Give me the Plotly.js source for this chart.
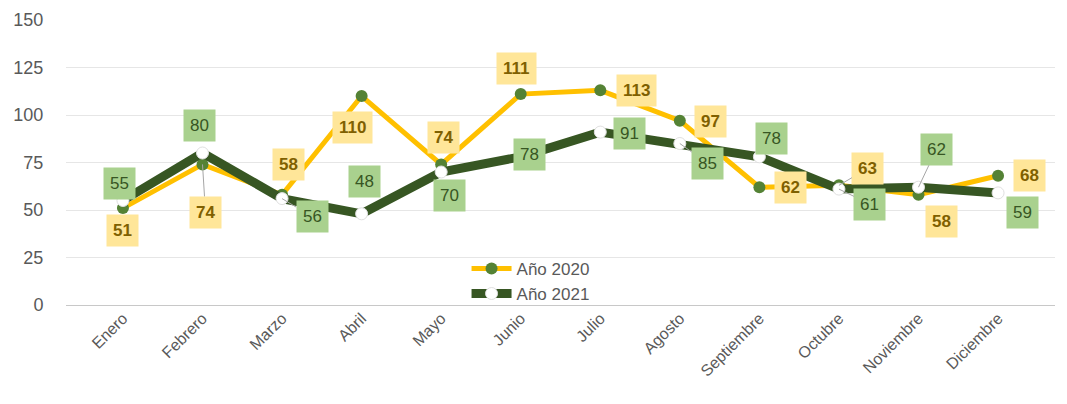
<!DOCTYPE html>
<html>
<head>
<meta charset="utf-8">
<script src="https://cdn.plot.ly/plotly-3.0.1.min.js"></script>
<style>html,body{margin:0;padding:0;background:#fff;}#chart{width:1067px;height:404px;}</style>
</head>
<body>
<div id="chart"></div>
<script>
const months = ["Enero","Febrero","Marzo","Abril","Mayo","Junio","Julio","Agosto","Septiembre","Octubre","Noviembre","Diciembre"];
const values2020 = [51, 74, 58, 110, 74, 111, 113, 97, 62, 63, 58, 68];
const values2021 = [55, 80, 56, 48, 70, 78, 91, 85, 78, 61, 62, 59];
const seriesNames = ["Año 2020", "Año 2021"];

// label placement (pixel offsets from the point, styling only)
const off2020 = [[0,22],[3,48],[6,-30],[-9,31],[2,-27],[-4,-26],[36,0],[31,1],[31,0],[29,-17],[23,27],[31,0]];
const lead2020 = [false,true,false,false,false,false,false,false,false,true,false,false];
const off2021 = [[-3,-17],[-3,-28],[30,18],[3,-32],[8,23],[9,-2],[29,1],[28,20],[12,-18],[31,15],[18,-38],[24,20]];
const lead2021 = [false,false,true,false,false,false,false,true,false,true,true,false];

function labels(vals, offs, leads, bg, col, bold) {
  return vals.map((v, i) => {
    const a = {
      x: months[i], y: v, xref: 'x', yref: 'y',
      text: bold ? '<b>' + v + '</b>' : String(v),
      bgcolor: bg, borderpad: 6,
      font: {family: 'Liberation Sans, Arial, sans-serif', size: 17, color: col}
    };
    if (leads[i]) {
      Object.assign(a, {showarrow: true, arrowhead: 0, arrowwidth: 1, arrowcolor: '#A6A6A6',
        ax: offs[i][0], ay: offs[i][1], standoff: 0});
    } else {
      Object.assign(a, {showarrow: false, xshift: offs[i][0], yshift: -offs[i][1]});
    }
    return a;
  });
}

const traces = [
  {x: months, y: values2020, name: seriesNames[0], type: 'scatter', mode: 'lines+markers',
   line: {color: '#FFC000', width: 5},
   marker: {color: '#548235', size: 12}},
  {x: months, y: values2021, name: seriesNames[1], type: 'scatter', mode: 'lines+markers',
   line: {color: '#375623', width: 9},
   marker: {color: '#FFFFFF', size: 12, line: {color: '#E0E0E0', width: 1}}}
];

const layout = {
  width: 1067, height: 404,
  margin: {l: 66, r: 12, t: 20, b: 99},
  paper_bgcolor: '#FFFFFF', plot_bgcolor: '#FFFFFF',
  font: {family: 'Liberation Sans, Arial, sans-serif', color: '#595959'},
  showlegend: true,
  legend: {x: 0.405, y: 0.19, xanchor: 'left', yanchor: 'top', bgcolor: 'rgba(0,0,0,0)',
           font: {size: 17, color: '#595959'}, tracegroupgap: 0, itemwidth: 40},
  xaxis: {type: 'category', tickangle: -45, showgrid: false, showline: false, zeroline: false,
          ticks: '', tickfont: {size: 16, color: '#595959'}},
  yaxis: {range: [0, 150], tickvals: [0,25,50,75,100,125,150], showgrid: true, gridcolor: '#E6E6E6',
          zeroline: true, zerolinecolor: '#C8C8C8', zerolinewidth: 1, showline: false,
          ticks: 'outside', ticklen: 18, tickcolor: 'rgba(0,0,0,0)',
          tickfont: {size: 18, color: '#595959'}, fixedrange: true},
  annotations: labels(values2020, off2020, lead2020, '#FFE699', '#7F6000', true)
    .concat(labels(values2021, off2021, lead2021, '#A9D18E', '#375623', false))
};

Plotly.newPlot('chart', traces, layout, {displayModeBar: false, staticPlot: true});
</script>
</body>
</html>
